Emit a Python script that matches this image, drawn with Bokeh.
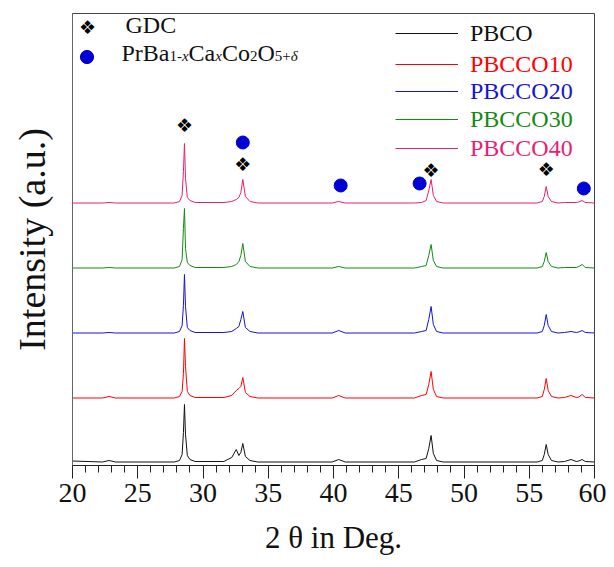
from bokeh.plotting import figure
from bokeh.models import (Label, Legend, LegendItem, SingleIntervalTicker,
                          FixedTicker, Range1d, ColumnDataSource)
from bokeh.core.properties import value
from bokeh.embed import file_html
from bokeh.resources import INLINE

# ---------------- data ----------------
two_theta = [20.0, 22.3, 22.8, 23.3, 27.8, 28.2, 28.4, 28.5, 28.58, 28.66, 28.8,
             29.0, 29.4, 31.6, 32.2, 32.55, 32.75, 32.9, 33.05, 33.25, 33.6,
             34.2, 39.9, 40.4, 40.9, 46.2, 46.75, 47.1, 47.3, 47.48, 47.65,
             47.9, 48.4, 55.6, 56.0, 56.15, 56.3, 56.45, 56.7, 57.2, 57.7,
             58.2, 58.6, 58.8, 59.05, 59.3, 60.0]

pbco = [1.5, 0.5, 2, 0.5, 0.5, 2, 8, 30, 58, 28, 7,
        3, 1, 1, 5, 13, 7, 10, 19, 6, 2,
        0.5, 0.5, 3, 0.5, 0.5, 3, 4, 14, 27, 9,
        2, 0.5, 0.5, 2, 8, 18, 8, 2, 0.5, 1,
        3, 1, 1.5, 3, 1, 0.5]
pbcco10 = [0.5, 0.5, 2, 0.5, 0.5, 2, 7, 25, 60, 32, 7,
           3, 1, 1, 3, 8, 10, 12, 21, 6, 2,
           0.5, 0.5, 3, 0.5, 0.5, 3, 4, 14, 27, 9,
           2, 0.5, 0.5, 2, 9, 20, 8, 2, 0.5, 1,
           3, 1, 1.5, 4, 1, 0.5]
pbcco20 = [0.5, 0.5, 1, 0.5, 0.5, 2, 8, 28, 59, 27, 6,
           3, 1, 1, 2, 5, 7, 14, 22, 6, 2,
           0.5, 0.5, 3, 0.5, 0.5, 2, 3, 14, 27, 9,
           2, 0.5, 0.5, 2, 8, 19, 8, 2, 0.5, 1,
           2, 1, 1.5, 3, 1, 0.5]
pbcco30 = [0.5, 0.5, 1, 0.5, 0.5, 2, 9, 40, 60, 20, 6,
           3, 1, 1, 2, 4, 7, 13, 25, 7, 2,
           0.5, 0.5, 2, 0.5, 0.5, 2, 3, 13, 24, 8,
           2, 0.5, 0.5, 2, 7, 16, 7, 2, 0.5, 1,
           1, 1, 2, 4, 1, 0.5]
pbcco40 = [0.5, 0.5, 1, 0.5, 0.5, 2, 8, 32, 60, 25, 6,
           3, 1, 1, 2, 4, 6, 11, 24, 7, 2,
           0.5, 0.5, 2, 0.5, 0.5, 1, 3, 13, 24, 8,
           2, 0.5, 0.5, 2, 7, 17, 7, 2, 0.5, 1,
           1, 1, 1.5, 3, 1, 0.5]

series_names = ["PBCO", "PBCCO10", "PBCCO20", "PBCCO30", "PBCCO40"]
series_values = [pbco, pbcco10, pbcco20, pbcco30, pbcco40]
series_offsets = [3, 67, 132, 197, 262]
series_colors = ["#111111", "#ff0000", "#1414d2", "#138a13", "#e91e73"]

# phase markers (2θ, height)
gdc_x = [28.58, 33.05, 47.48, 56.3]
gdc_y = [341, 302, 296, 297]
pbcco_x = [33.05, 40.55, 46.6, 59.18]
pbcco_y = [323, 280, 282, 277]

x_ticks_interval = 5

# ---------------- figure ----------------
p = figure(width=606, height=565, x_range=Range1d(20, 60), y_range=Range1d(0, 452),
           output_backend="svg", toolbar_location=None,
           min_border_left=72, min_border_right=12, min_border_top=13,
           min_border_bottom=100)
p.background_fill_color = "white"
p.border_fill_color = "white"
p.outline_line_color = "#444444"
p.outline_line_width = 1
p.xgrid.visible = False
p.ygrid.visible = False

serif = "Liberation Serif"

xa = p.xaxis[0]
xa.ticker = SingleIntervalTicker(interval=x_ticks_interval, num_minor_ticks=5)
xa.major_tick_out = 13
xa.major_tick_in = 0
xa.minor_tick_out = 7
xa.minor_tick_in = 0
xa.axis_line_color = "#222222"
xa.major_tick_line_color = "#222222"
xa.minor_tick_line_color = "#222222"
xa.major_label_text_font = serif
xa.major_label_text_font_size = "28px"
xa.major_label_text_color = "#111111"
xa.major_label_standoff = 5
xa.axis_label = "2 θ in Deg."
xa.axis_label_text_font = serif
xa.axis_label_text_font_size = "31px"
xa.axis_label_text_font_style = "normal"
xa.axis_label_text_color = "#111111"
xa.axis_label_standoff = 15

ya = p.yaxis[0]
ya.ticker = FixedTicker(ticks=[])
ya.major_tick_out = 0
ya.major_tick_in = 0
ya.minor_tick_out = 0
ya.minor_tick_in = 0
ya.axis_line_color = "#666666"
ya.axis_label = "Intensity (a.u.)"
ya.axis_label_text_font = serif
ya.axis_label_text_font_size = "38px"
ya.axis_label_text_font_style = "normal"
ya.axis_label_text_color = "#111111"
ya.axis_label_standoff = 20

renderers = []
for name, vals, off, col in zip(series_names, series_values, series_offsets, series_colors):
    src = ColumnDataSource(dict(x=two_theta, y=[off + v for v in vals]))
    r = p.line("x", "y", source=src, line_color=col, line_width=1)
    renderers.append(r)

# phase markers
p.text(x=gdc_x, y=gdc_y, text=["❖"] * len(gdc_x), text_font=value("DejaVu Sans"),
       text_font_size="19px", text_align="center", text_baseline="middle",
       text_color="black")
circ = p.scatter(x=pbcco_x, y=pbcco_y, size=13, marker="circle",
                 fill_color="#0000d4", line_color="#0000d4")

# right legend: one Legend per series so each label gets its own colour
legend_y = [418, 387, 360, 332, 303]
for name, r, col, ly in zip(series_names, renderers, series_colors, legend_y):
    lg = Legend(items=[LegendItem(label=name, renderers=[r])],
                location=(323, ly), glyph_width=63, glyph_height=28,
                label_height=28, label_standoff=12, padding=0, margin=0,
                spacing=0, border_line_color=None, background_fill_alpha=0,
                label_text_font=serif, label_text_font_size="24px",
                label_text_color=col)
    p.add_layout(lg)

# left legend
p.add_layout(Label(x=15, y=439, x_units="screen", y_units="screen", text="❖",
                   text_font="DejaVu Sans", text_font_size="19px",
                   text_align="center", text_baseline="middle", text_color="black"))
p.add_layout(Label(x=53, y=441, x_units="screen", y_units="screen", text="GDC",
                   text_font=serif, text_font_size="24px",
                   text_baseline="alphabetic", text_color="#111111"))
lg2 = Legend(items=[LegendItem(label=" ", renderers=[circ])],
             location=(-2, 392), glyph_width=33, glyph_height=33, label_height=33,
             padding=0, margin=0, spacing=0, border_line_color=None,
             background_fill_alpha=0, label_text_font_size="10px")
p.add_layout(lg2)

formula_parts = ["PrBa", "1-", "x", "Ca", "x", "Co", "2", "O", "5+", "δ"]
formula_sub = [False, True, True, False, True, False, True, False, True, True]
formula_italic = [False, False, True, False, True, False, False, False, False, True]
formula_x = [49, 97, 109.5, 116, 142.7, 149.4, 177.4, 184.9, 202.2, 218.2]
for t, sub, it, fx in zip(formula_parts, formula_sub, formula_italic, formula_x):
    p.add_layout(Label(x=fx, y=410 if sub else 413, x_units="screen", y_units="screen",
                       text=t, text_font=serif,
                       text_font_size="15px" if sub else "24px",
                       text_font_style="italic" if it else "normal",
                       text_baseline="alphabetic", text_color="#111111"))

open("out.html", "w").write(file_html(p, INLINE))
